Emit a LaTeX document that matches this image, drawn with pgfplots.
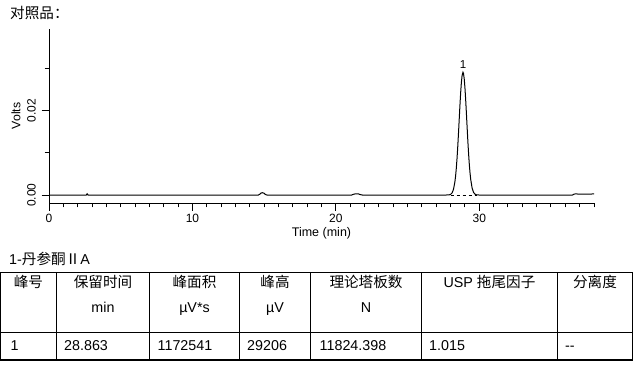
\documentclass[border=0pt]{standalone}
\usepackage{fontspec}
\setmainfont{Liberation Sans}
\newfontfamily\cjk{Noto Sans CJK SC}
\usepackage{pgfplots}
\pgfplotsset{compat=1.18}
\newcommand\CF{\cjk\fontsize{14.6}{16}\selectfont}
\newcommand\LF{\fontsize{14.3}{16}\selectfont}
\begin{document}
\begin{tikzpicture}
\path[use as bounding box] (0pt,0pt) rectangle (644pt,-373pt);
\begin{axis}[
  at={(49pt,-203pt)}, anchor=south west,
  scale only axis, width=545pt, height=174pt,
  xmin=0, xmax=38, ymin=-0.0019, ymax=0.0395,
  axis x line*=bottom, axis y line*=left,
  axis line style={-, line width=1pt, black},
  tick align=outside,
  major tick length=7.5pt, minor tick length=4.3pt,
  every tick/.style={black, line width=1pt},
  /pgf/number format/assume math mode=true,
  xtick={0,10,20,30}, xticklabels={0,10,20,30},
  minor xtick={1,2,...,38},
  ytick={0,0.02}, yticklabels={0.00,0.02},
  minor ytick={0.01,0.03},
  scaled y ticks=false, scaled x ticks=false,
  ticklabel style={font=\fontsize{12}{13}\selectfont},
  yticklabel style={rotate=90, anchor=south, inner ysep=5.5pt},
  xticklabel style={anchor=north},
  xlabel={Time (min)}, ylabel={Volts},
  xlabel style={at={(axis description cs:0.5,0)}, anchor=center, yshift=-30.5pt, font=\fontsize{12.5}{13}\selectfont},
  ylabel style={at={(axis description cs:-0.0606,0.5)}, anchor=center, font=\fontsize{12.3}{13}\selectfont},
  clip=false,
]
\addplot[black, line width=1pt] coordinates {
(0,0) (2.6,0) (2.66,0.0003) (2.72,0) (14.6,0) (14.7,0.0002) (14.8,0.0005) (14.9,0.00055) (15.0,0.0004) (15.1,0.0001) (15.2,0)
(21.1,0) (21.25,0.0002) (21.4,0.0003) (21.55,0.0003) (21.7,0.0001) (21.85,0)
(27.6,0) (27.8,0.00001) (27.9,0.00004) (28.0,0.00015) (28.1,0.00048) (28.2,0.00131) (28.3,0.00311) (28.35,0.00455) (28.4,0.00642) (28.45,0.00875)
(28.5,0.01151) (28.55,0.01461) (28.6,0.01791) (28.65,0.02119) (28.7,0.02420) (28.75,0.02668) (28.8,0.02839) (28.863,0.02921)
(28.9,0.02892) (28.95,0.02768) (29.0,0.02557) (29.05,0.02281) (29.1,0.01963) (29.15,0.01632) (29.2,0.01309) (29.25,0.01013)
(29.3,0.00757) (29.35,0.00546) (29.4,0.00380) (29.5,0.00166) (29.6,0.00063) (29.7,0.00021) (29.8,0.00006) (29.9,0.00002) (30.0,0)
(36.5,0) (36.6,0.0002) (36.75,0.0003) (36.9,0.0002) (38,0.00025)
};
\addplot[black, line width=0.7pt, dash pattern=on 3pt off 3pt] coordinates {(28.0,0) (29.85,0)};
\node[anchor=south, inner sep=0pt, font=\fontsize{11.5}{12}\selectfont] at (axis cs:28.863,0.0292) [yshift=4pt] {1};
\end{axis}
% titles
\node[anchor=base west, inner sep=0pt] at (10pt,-18pt) {\CF 对照品：};
\node[anchor=base west, inner sep=0pt] at (9pt,-264pt) {\LF 1-{\CF 丹参酮Ⅱ}A};
% table
\begin{scope}[line width=1.2pt]
\draw (0.6pt,-272.7pt) rectangle (632.3pt,-360pt);
\draw (0.6pt,-332.3pt) -- (632.3pt,-332.3pt);
\foreach \x in {56.3,149.7,239.3,310.7,421.3,557.7} \draw (\x pt,-272.7pt) -- (\x pt,-360pt);
\end{scope}
\foreach \x/\t in {28.4/峰号,103/保留时间,194.5/峰面积,275/峰高,366/理论塔板数,595/分离度}
  \node[anchor=base, inner sep=0pt] at (\x pt,-287.8pt) {\CF \t};
\node[anchor=base, inner sep=0pt] at (489.5pt,-287.8pt) {\LF USP {\CF 拖尾因子}};
\foreach \x/\t in {103/min,194.5/µV*s,275/µV,366/N}
  \node[anchor=base, inner sep=0pt] at (\x pt,-312.7pt) {\LF \t};
\foreach \x/\t in {10.5/1,64/28.863,157.5/1172541,247/29206,319.5/11824.398,429/1.015}
  \node[anchor=base west, inner sep=0pt] at (\x pt,-350pt) {\LF \t};
\node[anchor=base west, inner sep=0pt] at (565pt,-350pt) {\LF -{}-};
\end{tikzpicture}
\end{document}
